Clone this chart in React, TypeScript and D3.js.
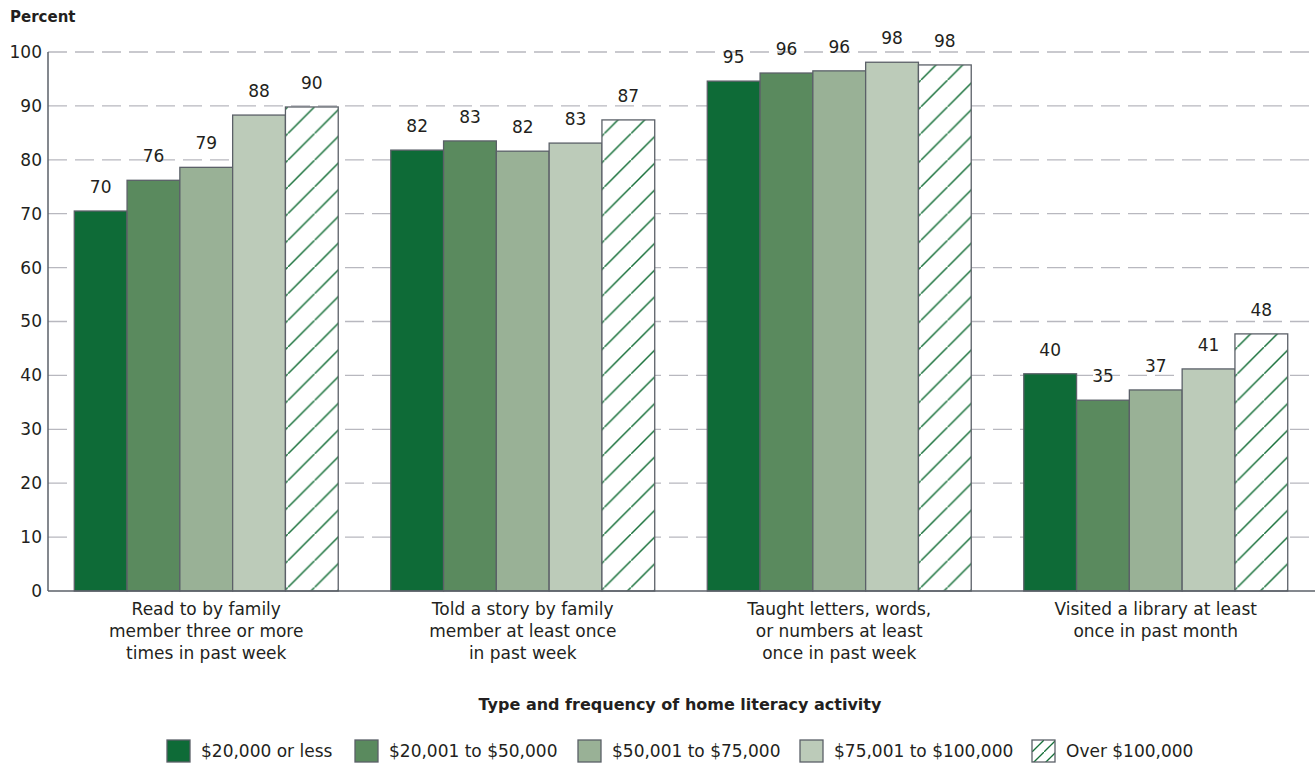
import React from "react";
import * as d3 from "d3";

const categories = [
  ["Read to by family", "member three or more", "times in past week"],
  ["Told a story by family", "member at least once", "in past week"],
  ["Taught letters, words,", "or numbers at least", "once in past week"],
  ["Visited a library at least", "once in past month"],
];
const seriesNames = ["$20,000 or less", "$20,001 to $50,000", "$50,001 to $75,000", "$75,001 to $100,000", "Over $100,000"];
const s1 = [70.5, 81.8, 94.6, 40.3];
const s2 = [76.2, 83.5, 96.1, 35.4];
const s3 = [78.6, 81.6, 96.5, 37.3];
const s4 = [88.3, 83.1, 98.1, 41.2];
const s5 = [89.8, 87.4, 97.6, 47.7];
const labels1 = ["70", "82", "95", "40"];
const labels2 = ["76", "83", "96", "35"];
const labels3 = ["79", "82", "96", "37"];
const labels4 = ["88", "83", "98", "41"];
const labels5 = ["90", "87", "98", "48"];
const yTicks = [0, 10, 20, 30, 40, 50, 60, 70, 80, 90, 100];

const series = [s1, s2, s3, s4, s5];
const seriesLabels = [labels1, labels2, labels3, labels4, labels5];
const colors = ["#0e6b37", "#5a8a5e", "#99b196", "#bccbb9", "url(#hatch)"];

const FONT = "'DejaVu Sans', 'Open Sans', sans-serif";
const TEXT = "#231f20";

export default function App() {
  const W = 1315, H = 767;
  const left = 48, right = 1314, top = 52, bottom = 591;
  const y = d3.scaleLinear().domain([0, 100]).range([bottom, top]);
  const x0 = d3.scaleBand<number>().domain(d3.range(categories.length)).range([left, right]).paddingInner(0.166).paddingOuter(0.083);
  const x1 = d3.scaleBand<number>().domain(d3.range(series.length)).range([0, x0.bandwidth()]).padding(0);

  const legendX = [167, 355, 578, 800, 1032];

  return (
    <svg width={W} height={H} style={{ position: "absolute", left: 0, top: 0, background: "#fff" }} fontFamily={FONT}>
      <defs>
        <pattern id="hatch" patternUnits="userSpaceOnUse" width={26.7} height={26.7}>
          <rect width={26.7} height={26.7} fill="#fff" />
          <line x1={-2} y1={28.7} x2={28.7} y2={-2} stroke="#17703a" strokeWidth={1.5} />
        </pattern>
        <pattern id="hatchLegend" patternUnits="userSpaceOnUse" width={12} height={12} x={1032} y={740}>
          <rect width={12} height={12} fill="#fff" />
          <line x1={-1} y1={13} x2={13} y2={-1} stroke="#17703a" strokeWidth={1.3} />
        </pattern>
      </defs>
      <text x={10} y={22} fontSize={15} fontWeight="bold" fill={TEXT}>Percent</text>
      {yTicks.map((t) => (
        <g key={t}>
          {t > 0 && (
            <line x1={left} x2={W} y1={y(t)} y2={y(t)} stroke="#b8b8bf" strokeWidth={1.3} strokeDasharray="19,8" />
          )}
          <text x={42} y={y(t)} dy="0.35em" textAnchor="end" fontSize={17} fill={TEXT}>{t}</text>
        </g>
      ))}
      {categories.map((cat, ci) => (
        <g key={ci} transform={`translate(${x0(ci)},0)`}>
          {series.map((s, si) => (
            <g key={si}>
              <rect x={x1(si)} y={y(s[ci])} width={x1.bandwidth()} height={bottom - y(s[ci])} fill={colors[si]} stroke="#5b6068" strokeWidth={1.3} />
              <text x={(x1(si) ?? 0) + x1.bandwidth() / 2} y={y(s[ci]) - 18} textAnchor="middle" fontSize={17} fill={TEXT}>{seriesLabels[si][ci]}</text>
            </g>
          ))}
          {cat.map((line, li) => (
            <text key={li} x={x0.bandwidth() / 2} y={609 + li * 22} dy="0.35em" textAnchor="middle" fontSize={17} fill={TEXT}>{line}</text>
          ))}
        </g>
      ))}
      <line x1={left} x2={left} y1={top} y2={bottom} stroke="#5b6068" strokeWidth={1.5} />
      <line x1={left} x2={W} y1={bottom} y2={bottom} stroke="#5b6068" strokeWidth={1.5} />
      <text x={680} y={704} dy="0.35em" textAnchor="middle" fontSize={16} fontWeight="bold" fill={TEXT}>Type and frequency of home literacy activity</text>
      {seriesNames.map((n, i) => (
        <g key={n}>
          <rect x={legendX[i]} y={740} width={23} height={22} fill={i === 4 ? "url(#hatchLegend)" : colors[i]} stroke="#5b6068" strokeWidth={1.3} />
          <text x={legendX[i] + 34} y={751} dy="0.35em" fontSize={17} fill={TEXT}>{n}</text>
        </g>
      ))}
    </svg>
  );
}
